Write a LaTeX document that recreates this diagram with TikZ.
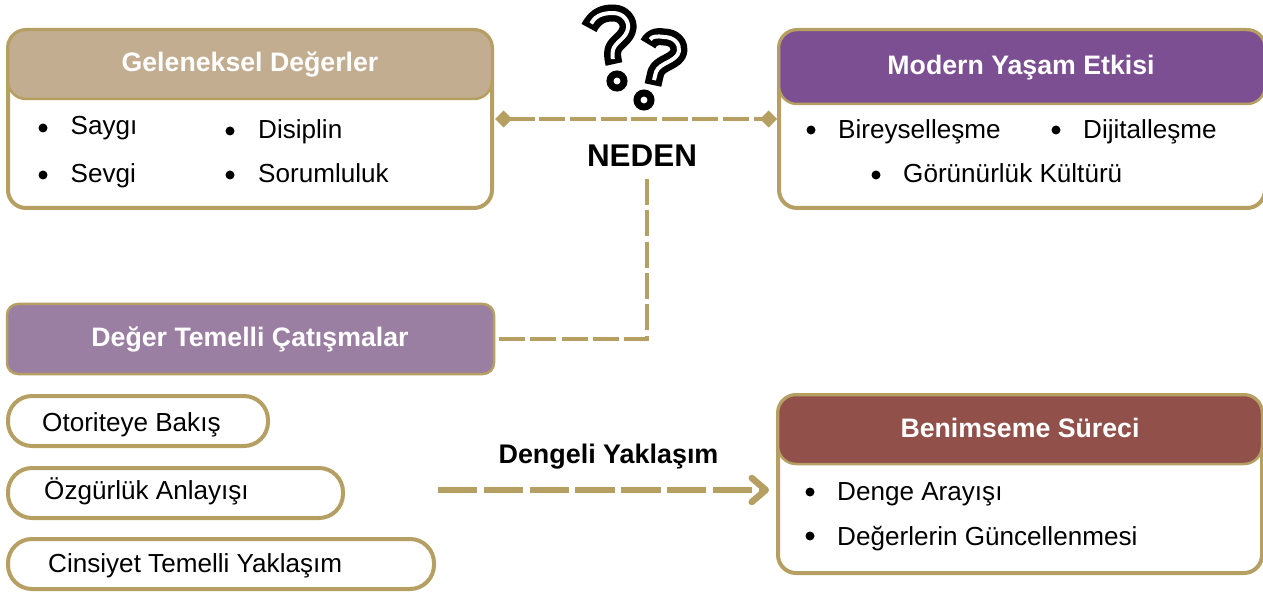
\documentclass[tikz,border=0pt]{standalone}
\usepackage{fontspec}
\setmainfont{Liberation Sans}
\usetikzlibrary{arrows.meta,calc}
\definecolor{gold}{HTML}{B59F63}
\definecolor{beige}{HTML}{C2AD90}
\definecolor{plum}{HTML}{7B4F91}
\definecolor{mauve}{HTML}{9B7FA3}
\definecolor{brick}{HTML}{91514A}
\tikzset{
 body/.style={draw=gold,line width=4pt,fill=white,rounded corners=18pt,inner sep=0pt,outer sep=0pt,anchor=north west},
 head/.style={draw=gold,line width=2.5pt,rounded corners=18pt,inner sep=0pt,outer sep=0pt,anchor=north west},
 pill/.style={draw=gold,line width=4pt,fill=white,rounded corners=24pt,inner sep=0pt,outer sep=0pt,anchor=north west},
 txt/.style={anchor=base west,inner sep=0pt,font=\fontsize{26.1}{30}\selectfont,text=black},
 htxt/.style={anchor=base,inner sep=0pt,font=\fontsize{26.7}{30}\selectfont\bfseries,text=white},
 bul/.style={circle,fill=black,minimum size=9pt,inner sep=0pt,outer sep=0pt},
 link/.style={draw=gold,line width=4.5pt,dash pattern=on 26pt off 4.6pt},
 qm/.style={draw=black,line width=17pt,line cap=butt,line join=round},
 qmi/.style={draw=white,line width=4pt,line cap=butt,line join=round,shorten <=5pt,shorten >=5pt},
 qd/.style={circle,draw=black,line width=7pt,fill=white,minimum size=14pt,inner sep=0pt,outer sep=0pt},
}
\begin{document}
\begin{tikzpicture}[x=1pt,y=-1pt]
\useasboundingbox (0,0) rectangle (1263,593);
% boxes
\node[body,minimum width=484pt,minimum height=178pt] (gel) at (8,30) {};
\node[head,fill=beige,minimum width=484pt,minimum height=69pt] (gelh) at (8,30) {};
\node[body,minimum width=486pt,minimum height=178pt] (mod) at (779,30) {};
\node[head,fill=plum,minimum width=486pt,minimum height=74pt] (modh) at (779,30) {};
\node[head,fill=mauve,rounded corners=11pt,minimum width=487pt,minimum height=70pt] (cat) at (7,304) {};
\node[body,minimum width=484pt,minimum height=178pt] (ben) at (778,395) {};
\node[head,fill=brick,minimum width=484pt,minimum height=69pt] (benh) at (778,395) {};
\node[pill,minimum width=260pt,minimum height=50pt] (p1) at (8,396) {};
\node[pill,minimum width=335pt,minimum height=50pt] (p2) at (8,468) {};
\node[pill,minimum width=426pt,minimum height=50pt] (p3) at (8,539) {};
% headings
\node[htxt] (t1) at (250,72) {Geleneksel Değerler};
\node[htxt] (t2) at (1021,75) {Modern Yaşam Etkisi};
\node[htxt] (t3) at (250,346) {Değer Temelli Çatışmalar};
\node[htxt] (t4) at (1020,437) {Benimseme Süreci};
% lists
\node[bul] (b1) at (43,128) {}; \node[txt] (s1) at (70.5,135) {Saygı};
\node[bul] (b2) at (43,175) {}; \node[txt] (s2) at (70.5,183) {Sevgi};
\node[bul] (b3) at (230,131) {}; \node[txt] (s3) at (258,139) {Disiplin};
\node[bul] (b4) at (230,175) {}; \node[txt] (s4) at (258,183) {Sorumluluk};
\node[bul] (b5) at (811,130) {}; \node[txt] (s5) at (838,139) {Bireyselleşme};
\node[bul] (b6) at (1056,130) {}; \node[txt] (s6) at (1083,139) {Dijitalleşme};
\node[bul] (b7) at (876,175) {}; \node[txt] (s7) at (903,183) {Görünürlük Kültürü};
\node[bul] (b8) at (810,492) {}; \node[txt] (s8) at (837,500) {Denge Arayışı};
\node[bul] (b9) at (810,536) {}; \node[txt] (s9) at (837,545) {Değerlerin Güncellenmesi};
\node[txt] (o1) at (42,431) {Otoriteye Bakış};
\node[txt] (o2) at (44,499) {Özgürlük Anlayışı};
\node[txt] (o3) at (48,572) {Cinsiyet Temelli Yaklaşım};
% centre labels
\node[anchor=base,inner sep=0pt,font=\fontsize{31.4}{36}\selectfont\bfseries] (neden) at (642,167) {NEDEN};
\node[anchor=base,inner sep=0pt,font=\fontsize{26.9}{30}\selectfont\bfseries] (deng) at (608.5,463) {Dengeli Yaklaşım};
% connectors
\draw[link,{Diamond[length=17pt,width=17pt,fill=gold]}-{Diamond[length=17pt,width=17pt,fill=gold]},shorten <=3pt,shorten >=2pt] (gel.east) -- (mod.west);
\coordinate (nb) at ($(neden.south)+(5,12)$);
\draw[link,dash pattern=on 26pt off 5.3pt,shorten >=4pt] (nb) |- (cat.east);
\coordinate (as) at (438,490);
\coordinate (ae) at (ben.west|-as);
\draw[draw=gold,line width=6.5pt,dash pattern=on 39.3pt off 6.5pt,-{Straight Barb[round,length=14pt,width=24pt,line width=6.5pt]},shorten >=9pt] (as) -- (ae);
% question marks
\def\qa{(589,28) .. controls (596,14) and (606,13) .. (613,13) .. controls (624,13) and (629,22) .. (628,28) .. controls (627,38) and (615,42) .. (613,50) .. controls (612,54) and (613,60) .. (614,64)}
\def\qb{(648,44) .. controls (652,36) and (658,36) .. (664,37) .. controls (674,37) and (680,44) .. (679,51) .. controls (677,62) and (660,62) .. (656,72) .. controls (655,76) and (654,80) .. (653,85)}
\draw[qm] \qa;
\draw[qmi] \qa;
\node[qd] (d1) at (617,81) {};
\draw[qm] \qb;
\draw[qmi] \qb;
\node[qd] (d2) at (644,100) {};
\end{tikzpicture}
\end{document}
